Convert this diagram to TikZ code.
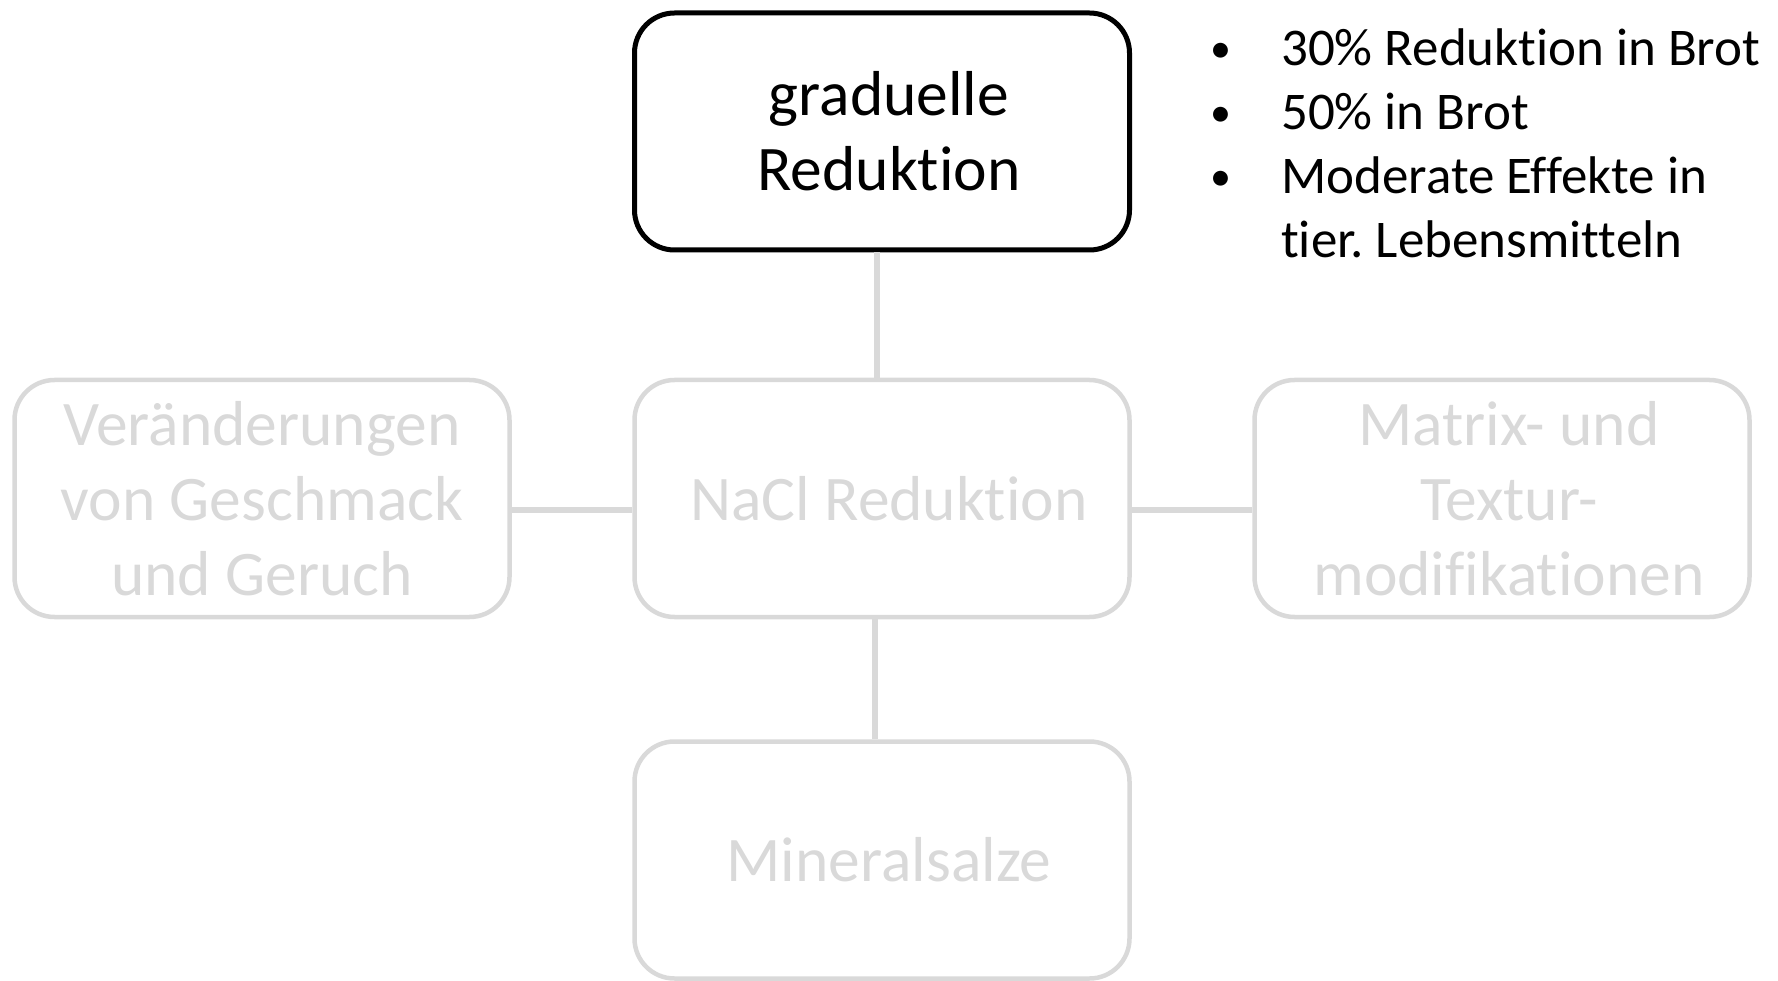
\documentclass[tikz,border=0pt]{standalone}
\usepackage{fontspec}
\setmainfont{Carlito}[Ligatures={NoCommon,NoContextual}]
\definecolor{lightgr}{HTML}{D9D9D9}
\frenchspacing
\newcommand{\shiftln}{\hspace*{14pt}}
\begin{document}
\begin{tikzpicture}[x=1pt,y=-1pt,
  box/.style={rounded corners=40pt, minimum width=495pt, minimum height=237pt,
    align=center, inner sep=0pt, font=\fontsize{63.5}{75}\selectfont},
  activebox/.style={box, draw=black, line width=5pt, text=black},
  fadedbox/.style={box, draw=lightgr, line width=4.5pt, text=lightgr},
  link/.style={draw=lightgr, line width=6pt}]
\useasboundingbox (0,0) rectangle (1778,981);
\node[fadedbox] (nacl) at (882,498.5) {\shiftln NaCl Reduktion};
\node[activebox] (top) at (882,131.5) {\shiftln graduelle\\\shiftln Reduktion};
\node[fadedbox] (left) at (262,498.5) {Veränderungen\\von Geschmack\\und Geruch};
\node[fadedbox] (right) at (1502,498.5) {\shiftln Matrix- und\\\shiftln Textur-\\\shiftln modifikationen};
\node[fadedbox] (bottom) at (882,860) {\shiftln Mineralsalze};
% connectors
\draw[link] ([xshift=-5pt]top.south) -- ([xshift=-5pt]nacl.north);
\draw[link] ([xshift=-7pt]nacl.south) -- ([xshift=-7pt]bottom.north);
\draw[link] ([yshift=-11.5pt]left.east) -- ([yshift=-11.5pt]nacl.west);
\draw[link] ([yshift=-11.5pt]nacl.east) -- ([yshift=-11.5pt]right.west);
\node[anchor=north west, inner sep=0pt, font=\fontsize{53}{64}\selectfont] (bullets) at (1210,21)
  {\begin{tabular}{@{}p{71pt}@{}l@{}}
   \raisebox{3pt}{\fontsize{42}{64}\selectfont\textbullet} & 30\% Reduktion in Brot\\
   \raisebox{3pt}{\fontsize{42}{64}\selectfont\textbullet} & 50\% in Brot\\
   \raisebox{3pt}{\fontsize{42}{64}\selectfont\textbullet} & Moderate Effekte in\\
               & tier. Lebensmitteln
  \end{tabular}};
\end{tikzpicture}
\end{document}
